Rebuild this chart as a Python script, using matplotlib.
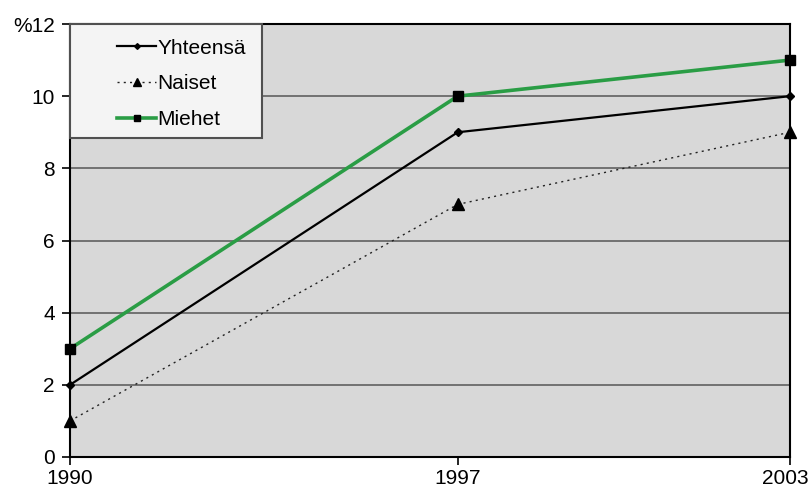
import matplotlib
matplotlib.use('Agg')
import matplotlib.pyplot as plt
import matplotlib.transforms as mtrans
from matplotlib.patches import Rectangle
from matplotlib.ticker import FuncFormatter

plt.rcParams['font.family'] = ['Liberation Sans', 'DejaVu Sans']

vuodet    = [1990, 1997, 2003]
yhteensa  = [2, 9, 10]
naiset    = [1, 7, 9]
miehet    = [3, 10, 11]
y_ticks   = [0, 2, 4, 6, 8, 10, 12]

fig = plt.figure(figsize=(8.1, 4.87), dpi=100)
ax = fig.add_axes([70/810, 30/487, 720/810, 433/487])
ax.set_facecolor('#d8d8d8')

# ---- viivat ----
ax.plot(vuodet, yhteensa, color='black', lw=1.6, marker='D', ms=4.5,
        label='Yhteensä', clip_on=False, zorder=4)
ax.plot(vuodet, naiset, color='#222222', lw=1.0, ls=(0, (1.5, 3)), marker='^', ms=8,
        markerfacecolor='black', markeredgecolor='black',
        label='Naiset', clip_on=False, zorder=4)
ax.plot(vuodet, miehet, color='#2a9d45', lw=2.6, marker='s', ms=6.5,
        markerfacecolor='black', markeredgecolor='black',
        label='Miehet', clip_on=False, zorder=5)

ax.set_xlim(1990, 2003)
ax.set_ylim(0, 12)
ax.set_xticks(vuodet)
ax.set_yticks(y_ticks)
ax.yaxis.set_major_formatter(FuncFormatter(lambda v, p: '%12' if v == 12 else '%d' % v))
ax.grid(axis='y', color='#606060', lw=1.2)
ax.set_axisbelow(True)
ax.tick_params(axis='both', labelsize=15, direction='out', length=6, width=1.2, color='black')
ax.tick_params(axis='y', pad=5)
ax.tick_params(axis='x', pad=3)
for s in ax.spines.values():
    s.set_color('black')
    s.set_linewidth(1.5)

# viimeinen vuosi hieman vasemmalle, ettei leikkaudu
fig.canvas.draw()
last = ax.get_xticklabels()[-1]
last.set_transform(last.get_transform() + mtrans.ScaledTranslation(-5/100, 0, fig.dpi_scale_trans))

# ---- selite ----
ax.add_patch(Rectangle((0, 1 - 114/433), 192/720, 114/433, transform=ax.transAxes,
                       facecolor='#f4f4f4', edgecolor='#505050', lw=1.5, zorder=6,
                       clip_on=False))
leg = ax.legend(loc='upper left', bbox_to_anchor=(28/720, 1 + 4/433), frameon=False,
                fontsize=15, handlelength=1.9, handletextpad=0.05, labelspacing=0.8,
                borderpad=0.4, markerscale=0.65)
leg.set_zorder(7)

fig.savefig('out.png', dpi=100)
